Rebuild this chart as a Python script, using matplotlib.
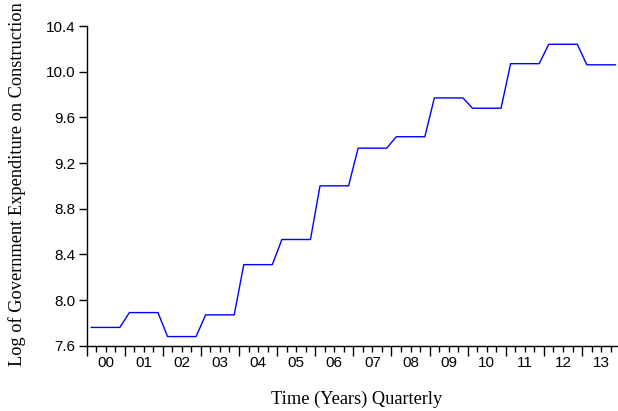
import numpy as np
import matplotlib
matplotlib.use('Agg')
import matplotlib.pyplot as plt

# quarterly values, 2000Q1 .. 2013Q4
log_expenditure = [
    7.76, 7.76, 7.76, 7.76,      # 2000
    7.89, 7.89, 7.89, 7.89,      # 2001
    7.68, 7.68, 7.68, 7.68,      # 2002
    7.87, 7.87, 7.87, 7.87,      # 2003
    8.31, 8.31, 8.31, 8.31,      # 2004
    8.53, 8.53, 8.53, 8.53,      # 2005
    9.00, 9.00, 9.00, 9.00,      # 2006
    9.33, 9.33, 9.33, 9.33,      # 2007
    9.43, 9.43, 9.43, 9.43,      # 2008
    9.77, 9.77, 9.77, 9.77,      # 2009
    9.68, 9.68, 9.68, 9.68,      # 2010
    10.07, 10.07, 10.07, 10.07,  # 2011
    10.24, 10.24, 10.24, 10.24,  # 2012
    10.06, 10.06, 10.06, 10.06,  # 2013
]
year_labels = ["00", "01", "02", "03", "04", "05", "06",
               "07", "08", "09", "10", "11", "12", "13"]
y_ticks = [7.6, 8.0, 8.4, 8.8, 9.2, 9.6, 10.0, 10.4]

serif = ['Liberation Serif', 'DejaVu Serif']
sans = ['Liberation Sans', 'DejaVu Sans']

fig = plt.figure(figsize=(6.18, 4.11), dpi=100)
ax = fig.add_axes([86.5 / 618, 65.3 / 411, 533.7 / 618, 319.7 / 411])

x = np.arange(len(log_expenditure))
ax.plot(x, log_expenditure, color='#0000ff', lw=1.0)

ax.set_xlim(-0.5, len(log_expenditure) - 0.5)
ax.set_ylim(7.6, 10.4)

for s in ['top', 'right']:
    ax.spines[s].set_visible(False)
for s in ['left', 'bottom']:
    ax.spines[s].set_linewidth(1.0)

ax.set_yticks(y_ticks)
ax.set_yticklabels([f"{v:.1f}" for v in y_ticks], family=sans, fontsize=11)
ax.tick_params(axis='y', direction='out', length=5.5, width=1.0, pad=2.5)

# year boundaries as long ticks, quarter boundaries as short ones
ax.set_xticks(np.arange(-0.5, len(log_expenditure), 4))
ax.set_xticks(np.arange(-0.5, len(log_expenditure), 1), minor=True)
ax.set_xticklabels([])
ax.tick_params(axis='x', which='major', direction='out', length=7, width=1.0)
ax.tick_params(axis='x', which='minor', direction='out', length=4, width=1.0)

for i, lab in enumerate(year_labels):
    ax.text(i * 4 + 1.5, -0.055, lab, transform=ax.get_xaxis_transform(),
            ha='center', va='center', family=sans, fontsize=11)

fig.text(357 / 618, 1 - 399 / 411, "Time (Years) Quarterly",
         ha='center', va='center', family=serif, fontsize=13.2)
fig.text(17 / 618, 1 - 184 / 411, "Log of Government Expenditure on Construction",
         ha='center', va='center', rotation=90, family=serif, fontsize=13.2)

fig.savefig('out.png', dpi=100)
